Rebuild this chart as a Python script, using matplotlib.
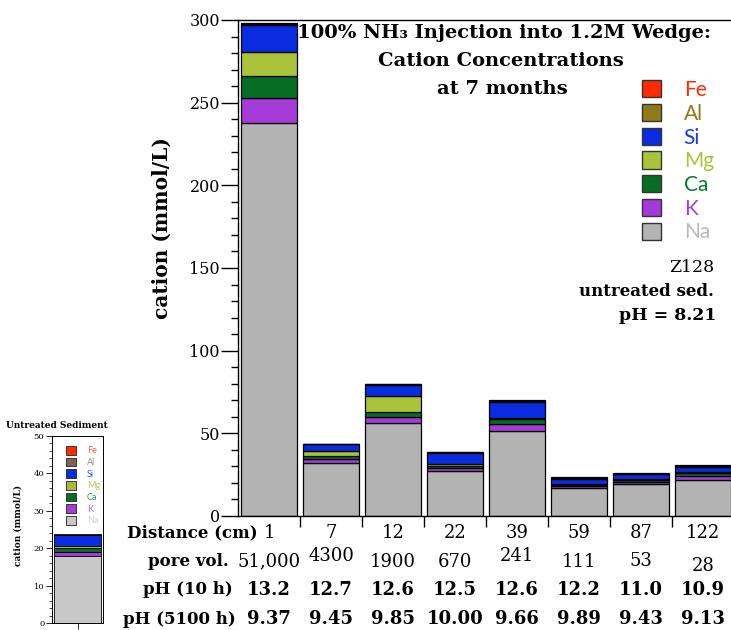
import matplotlib
matplotlib.use("Agg")
import matplotlib.pyplot as plt
from matplotlib.patches import Patch
import numpy as np

# Sampling positions along the wedge and their conditions
distance_cm = ["1", "7", "12", "22", "39", "59", "87", "122"]
pore_vol = ["51,000", "4300", "1900", "670", "241", "111", "53", "28"]
ph_10h = ["13.2", "12.7", "12.6", "12.5", "12.6", "12.2", "11.0", "10.9"]
ph_5100h = ["9.37", "9.45", "9.85", "10.00", "9.66", "9.89", "9.43", "9.13"]

# Cation concentrations (mmol/L), stacked bottom to top
cations = ["Na", "K", "Ca", "Mg", "Si", "Al", "Fe"]
na = [238.0, 32.0, 56.0, 27.0, 51.5, 16.8, 19.2, 22.0]
k = [15.0, 2.7, 3.8, 2.3, 4.3, 1.3, 1.2, 2.0]
ca = [13.0, 1.8, 3.4, 1.2, 2.8, 0.9, 1.5, 2.3]
mg = [14.5, 2.8, 9.1, 0.8, 0.5, 0.3, 0.3, 0.4]
si = [16.5, 4.0, 7.0, 6.8, 9.7, 2.8, 3.2, 3.0]
al = [0.6, 0.2, 0.3, 0.4, 1.0, 0.6, 0.3, 0.3]
fe = [0.6, 0.3, 0.5, 0.5, 0.5, 0.6, 0.3, 0.6]

# Untreated sediment reference sample
untreated_sample = ["Z128"]
untreated_vals = [18.0, 1.1, 0.9, 0.5, 3.0, 0.1, 0.1]  # Na, K, Ca, Mg, Si, Al, Fe

title_lines = ["100% NH\u2083 Injection into 1.2M Wedge:", "Cation Concentrations", "at 7 months"]

series = [na, k, ca, mg, si, al, fe]
colors = ["#b3b3b3", "#a63ad8", "#066e22", "#a9c43b", "#0a2ce0", "#8e7a18", "#ff2a00"]
text_colors = ["#b8b8b8", "#a040e0", "#0a7a2a", "#a9c43b", "#1a3ae8", "#8e7a18", "#ff2a00"]
inset_colors = ["#c8c8c8", "#a63ad8", "#066e22", "#a9b838", "#0a2ce0", "#7b6656", "#ff2a00"]
inset_text_colors = ["#d0d0d0", "#b060f0", "#2a9a4a", "#b8cc50", "#3050ff", "#9a8a80", "#ff5a40"]

SERIF = "DejaVu Serif"
SANS = "Lato"

W, H = 731, 630
fig = plt.figure(figsize=(W / 100, H / 100), dpi=100)

# ---------------- main chart ----------------
L, R, T, B = 238, 734, 20, 516
ax = fig.add_axes([L / W, (H - B) / H, (R - L) / W, (B - T) / H])
x = np.arange(len(distance_cm))
bottom = np.zeros(len(x))
for vals, col, name in zip(series, colors, cations):
    ax.bar(x, vals, bottom=bottom, width=0.9, color=col, edgecolor="black",
           linewidth=0.9, label=name)
    bottom += np.array(vals)

ax.set_xlim(-0.5, len(x) - 0.5)
ax.set_ylim(0, 300)
ax.set_yticks(np.arange(0, 301, 50))
ax.set_yticks(np.arange(0, 301, 10), minor=True)
ax.set_xticks(x[:-1] + 0.5)
ax.set_xticklabels([])
ax.tick_params(axis="y", which="major", length=12, width=1, labelsize=11.5, pad=1)
ax.tick_params(axis="y", which="minor", length=5, width=1)
ax.tick_params(axis="x", which="major", length=8, width=1)
for lab in ax.get_yticklabels():
    lab.set_fontfamily(SERIF)
for sp in ax.spines.values():
    sp.set_linewidth(1)

ax.set_ylabel("cation (mmol/L)", fontsize=14.5, fontweight="bold", family=SERIF)
ax.yaxis.set_label_coords((172 - L) / (R - L), (B - 228) / (B - T))

# title block
for line, py, cx in zip(title_lines, [33, 61, 89], [504, 501, 502]):
    fig.text(cx / W, (H - py) / H, line, ha="center", va="center", fontsize=14,
             fontweight="bold", family=SERIF)

# legend, top entry first
handles = [Patch(facecolor=c, edgecolor="#333333", linewidth=1) for c in colors][::-1]
leg = ax.legend(handles, cations[::-1], loc="upper left",
                bbox_to_anchor=(642 / W, (H - 80) / H), bbox_transform=fig.transFigure,
                frameon=False, prop={"family": SANS, "size": 15}, handlelength=0.9,
                handleheight=0.9, labelspacing=0.18, handletextpad=1.1, borderpad=0,
                borderaxespad=0)
for t, c in zip(leg.get_texts(), text_colors[::-1]):
    t.set_color(c)

fig.text(714 / W, (H - 268) / H, "Z128", ha="right", va="center", fontsize=12.5, family=SERIF)
fig.text(714 / W, (H - 291) / H, "untreated sed.", ha="right", va="center", fontsize=12,
         fontweight="bold", family=SERIF)
fig.text(668 / W, (H - 315) / H, "pH = 8.21", ha="center", va="center", fontsize=12.5,
         fontweight="bold", family=SERIF)

# table of conditions below the bars
tr = ax.get_xaxis_transform()
def ypos(py):
    return (B - py) / (B - T)

row_y = {"dist": 533, "pore": 561, "ph10": 590, "ph5100": 619}
pore_shift = [0, -5, 1, 1, -5, 1, 0, 5]
for i in range(len(x)):
    ax.text(x[i], ypos(row_y["dist"]), distance_cm[i], transform=tr, ha="center", va="center",
            fontsize=13, family=SERIF, clip_on=False)
    ax.text(x[i], ypos(row_y["pore"] + pore_shift[i]), pore_vol[i], transform=tr, ha="center",
            va="center", fontsize=13, family=SERIF, clip_on=False)
    ax.text(x[i], ypos(row_y["ph10"]), ph_10h[i], transform=tr, ha="center", va="center",
            fontsize=13, fontweight="bold", family=SERIF, clip_on=False)
    ax.text(x[i], ypos(row_y["ph5100"]), ph_5100h[i], transform=tr, ha="center", va="center",
            fontsize=13, fontweight="bold", family=SERIF, clip_on=False)

row_labels = [("Distance (cm)", 258, "dist"), ("pore vol.", 229, "pore"),
              ("pH (10 h)", 233, "ph10"), ("pH (5100 h)", 236, "ph5100")]
for txt, xr, key in row_labels:
    fig.text(xr / W, (H - row_y[key]) / H, txt, ha="right", va="center", fontsize=12,
             fontweight="bold", family=SERIF)

# ---------------- untreated sediment inset ----------------
iL, iR, iT, iB = 52, 103, 436, 623
ax2 = fig.add_axes([iL / W, (H - iB) / H, (iR - iL) / W, (iB - iT) / H])
b = 0.0
for v, col in zip(untreated_vals, inset_colors):
    ax2.bar([0], [v], bottom=b, width=0.94, color=col, edgecolor="black", linewidth=0.6)
    b += v
ax2.set_xlim(-0.5, 0.5)
ax2.set_ylim(0, 50)
ax2.set_yticks(np.arange(0, 51, 10))
ax2.set_yticks(np.arange(0, 51, 2), minor=True)
ax2.set_xticks([0])
ax2.set_xticklabels(untreated_sample, fontsize=6, family=SERIF)
ax2.tick_params(axis="both", which="major", length=4, width=0.6, labelsize=6, pad=1.5)
ax2.tick_params(axis="y", which="minor", length=2, width=0.5)
for lab in ax2.get_yticklabels():
    lab.set_fontfamily(SERIF)
for sp in ax2.spines.values():
    sp.set_linewidth(0.7)
fig.text(57 / W, (H - 426) / H, "Untreated Sediment", ha="center", va="center", fontsize=6.5,
         fontweight="bold", family=SERIF)
ax2.set_ylabel("cation (mmol/L)", fontsize=6.5, fontweight="bold", family=SERIF)
ax2.yaxis.set_label_coords((23 - iL) / (iR - iL), (iB - 525) / (iB - iT))

ih = [Patch(facecolor=c, edgecolor="#222222", linewidth=0.6) for c in inset_colors][::-1]
ileg = ax2.legend(ih, cations[::-1], loc="upper left",
                  bbox_to_anchor=(66 / W, (H - 446) / H), bbox_transform=fig.transFigure,
                  frameon=False, prop={"family": SANS, "size": 6.5}, handlelength=1.1,
                  handleheight=1.1, labelspacing=0.25, handletextpad=1.2, borderpad=0,
                  borderaxespad=0)
for t, c in zip(ileg.get_texts(), inset_text_colors[::-1]):
    t.set_color(c)

fig.savefig("out.png", dpi=100)
